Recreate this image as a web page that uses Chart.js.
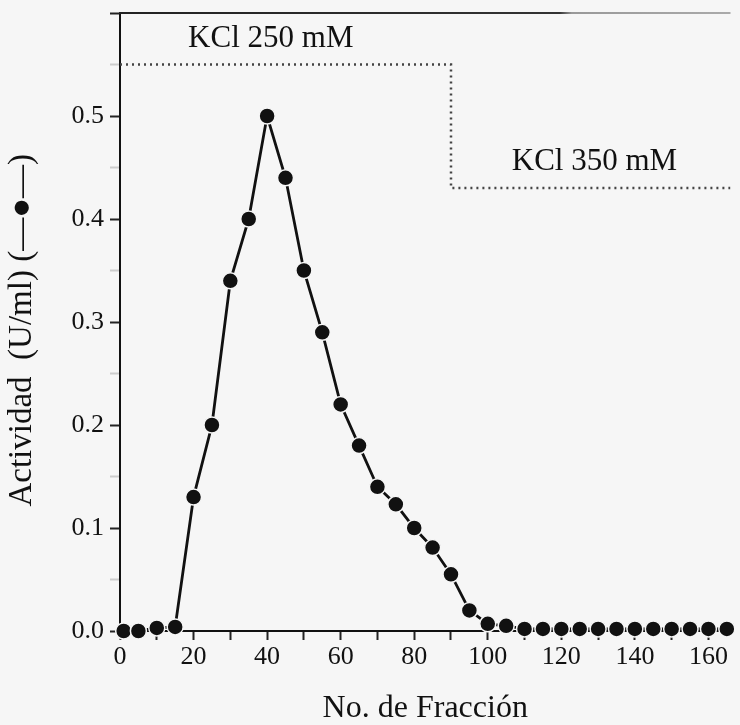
<!DOCTYPE html>
<html>
<head>
<meta charset="utf-8">
<script src="https://cdn.jsdelivr.net/npm/chart.js@4"></script>
<style>
  body { margin: 0; background: #f6f6f6; }
  #caja { position: relative; width: 740px; height: 725px; }
</style>
</head>
<body>
<div id="caja"><canvas id="grafico"></canvas></div>
<script>
// ── Datos ─────────────────────────────────────────
const fraccion  = [1, 5, 10, 15, 20, 25, 30, 35, 40, 45, 50, 55, 60, 65, 70, 75, 80, 85, 90, 95,
                   100, 105, 110, 115, 120, 125, 130, 135, 140, 145, 150, 155, 160, 165];
const actividad = [0, 0, 0.003, 0.004, 0.13, 0.2, 0.34, 0.4, 0.5, 0.44, 0.35, 0.29, 0.22, 0.18, 0.14, 0.123, 0.1, 0.081, 0.055, 0.02,
                   0.007, 0.005, 0.002, 0.002, 0.002, 0.002, 0.002, 0.002, 0.002, 0.002, 0.002, 0.002, 0.002, 0.002];

// escalón de KCl (línea punteada)
const kclX = [0, 90, 90, 166];
const kclY = [0.55, 0.55, 0.43, 0.43];

const kclTextos = ['KCl 250 mM', 'KCl 350 mM'];
const kclTextoX = [41, 129];
const kclTextoY = [0.575, 0.455];

const xEtiquetas = [0, 20, 40, 60, 80, 100, 120, 140, 160];
const yEtiquetas = ['0.0', '0.1', '0.2', '0.3', '0.4', '0.5'];

const SERIF = '"Liberation Serif", "DejaVu Serif", serif';
const FONDO = '#f6f6f6';
const TINTA = '#111';

// ── Plugins ───────────────────────────────────────
const bordeSuperior = {
  id: 'bordeSuperior',
  afterDraw(chart) {
    const { ctx, chartArea: a } = chart;
    const g = ctx.createLinearGradient(a.left, 0, a.right, 0);
    g.addColorStop(0, '#222');
    g.addColorStop(0.72, '#333');
    g.addColorStop(0.74, '#999');
    g.addColorStop(1, '#aaa');
    ctx.save();
    ctx.strokeStyle = g;
    ctx.lineWidth = 2;
    ctx.beginPath();
    ctx.moveTo(a.left - 1, a.top);
    ctx.lineTo(a.right, a.top);
    ctx.stroke();
    ctx.restore();
  }
};

const textosKCl = {
  id: 'textosKCl',
  afterDatasetsDraw(chart) {
    const { ctx, scales: { x, y } } = chart;
    ctx.save();
    ctx.fillStyle = TINTA;
    ctx.font = '31px ' + SERIF;
    ctx.textAlign = 'center';
    ctx.textBaseline = 'middle';
    kclTextos.forEach((t, i) => {
      ctx.fillText(t, x.getPixelForValue(kclTextoX[i]), y.getPixelForValue(kclTextoY[i]));
    });
    ctx.restore();
  }
};

// ── Gráfico ───────────────────────────────────────
new Chart(document.getElementById('grafico'), {
  type: 'line',
  data: {
    datasets: [
      {
        label: 'KCl',
        data: kclX.map((v, i) => ({ x: v, y: kclY[i] })),
        borderColor: '#444',
        borderWidth: 2.5,
        borderDash: [2, 4],
        pointRadius: 0,
        tension: 0
      },
      {
        label: 'Actividad',
        data: fraccion.map((v, i) => ({ x: v, y: actividad[i] })),
        borderColor: TINTA,
        borderWidth: 2.8,
        pointRadius: 8,
        pointBackgroundColor: TINTA,
        pointBorderColor: FONDO,
        pointBorderWidth: 1.5,
        tension: 0,
        clip: false
      }
    ]
  },
  options: {
    responsive: true, maintainAspectRatio: false,
    animation: false,
    layout: { padding: { top: 13, right: 0, left: 0, bottom: 0 } },
    plugins: { legend: { display: false }, tooltip: { enabled: false } },
    scales: {
      x: {
        type: 'linear', min: 0, max: 166,
        border: { color: TINTA, width: 2 },
        grid: { drawOnChartArea: false, tickLength: 9, tickColor: '#222', tickWidth: 2 },
        ticks: {
          stepSize: 10, includeBounds: false, autoSkip: false, maxRotation: 0, padding: 2,
          color: TINTA, font: { family: SERIF, size: 26 },
          callback: v => xEtiquetas.includes(v) ? String(v) : ''
        },
        title: {
          display: true, text: 'No. de Fracción', color: TINTA,
          font: { family: SERIF, size: 32 }, padding: { top: 0, bottom: -3 }
        },
        afterFit: s => { s.height = 94; s.paddingLeft = 0; s.paddingRight = 0; }
      },
      y: {
        min: 0, max: 0.6,
        border: { color: TINTA, width: 2 },
        grid: {
          drawOnChartArea: false, tickLength: 10, tickWidth: 2,
          tickColor: c => Math.abs(c.tick.value * 10 - Math.round(c.tick.value * 10)) < 1e-6 ? '#222' : '#ccc'
        },
        ticks: {
          stepSize: 0.05, padding: 6, color: TINTA, font: { family: SERIF, size: 26 },
          callback: v => {
            const k = Math.round(v * 10);
            return Math.abs(v * 10 - k) < 1e-6 && yEtiquetas[k] ? yEtiquetas[k] : '';
          }
        },
        title: {
          display: true, text: 'Actividad  (U/ml) (—●—)  ', color: TINTA,
          font: { family: SERIF, size: 33 }, padding: { top: 3, bottom: 0 }
        },
        afterFit: s => { s.width = 120; s.paddingTop = 0; s.paddingBottom = 0; }
      }
    }
  },
  plugins: [bordeSuperior, textosKCl]
});
</script>
</body>
</html>
